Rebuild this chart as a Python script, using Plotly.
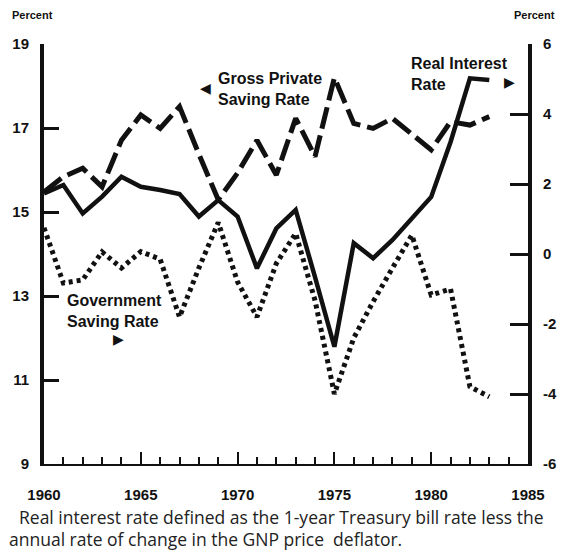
import plotly.graph_objects as go

years = list(range(1960, 1984))

gross_private_saving = [15.48, 15.84, 16.04, 15.60, 16.71, 17.31, 16.99, 17.51, 16.38, 15.29,
                        15.93, 16.71, 15.88, 17.23, 16.32, 18.20, 17.11, 16.99, 17.23, 16.86,
                        16.48, 17.15, 17.07, 17.27]
real_interest_rate = [1.73, 1.97, 1.16, 1.64, 2.21, 1.92, 1.83, 1.71, 1.07, 1.54,
                      1.07, -0.41, 0.73, 1.26, -0.66, -2.65, 0.31, -0.12, 0.40, 1.01,
                      1.63, 3.20, 5.02, 4.97]
government_saving = [0.75, -0.83, -0.74, 0.06, -0.40, 0.07, -0.15, -1.80, -0.40, 0.90,
                     -0.80, -1.80, -0.27, 0.59, -1.33, -4.00, -2.40, -1.36, -0.40, 0.54,
                     -1.17, -1.00, -3.79, -4.08]

x_ticks = [1960, 1965, 1970, 1975, 1980, 1985]
left_ticks = [9, 11, 13, 15, 17, 19]
right_ticks = [-6, -4, -2, 0, 2, 4, 6]
right_ticktext = ["-6", "-4", "-2", "0", "2", "4", "6"]

INK = "#111111"
tickfont = dict(family="Liberation Sans", size=15, color=INK, weight="bold")

fig = go.Figure()
fig.add_trace(go.Scatter(x=years, y=gross_private_saving, mode="lines", yaxis="y",
                         line=dict(color=INK, width=5, dash="22px,7px"),
                         name="Gross Private Saving Rate"))
fig.add_trace(go.Scatter(x=years, y=real_interest_rate, mode="lines", yaxis="y2",
                         line=dict(color=INK, width=4.5),
                         name="Real Interest Rate"))
fig.add_trace(go.Scatter(x=years, y=government_saving, mode="lines", yaxis="y2",
                         line=dict(color=INK, width=5, dash="4px,4px"),
                         name="Government Saving Rate"))

fig.update_layout(
    width=569, height=550,
    margin=dict(l=42, r=34, t=44, b=86),
    paper_bgcolor="white", plot_bgcolor="white",
    showlegend=False,
    xaxis=dict(range=[1960, 1985], tickvals=x_ticks, ticks="inside", ticklen=12,
               tickwidth=2, tickcolor=INK, showline=True, linewidth=2, linecolor=INK,
               showgrid=False, zeroline=False, tickfont=tickfont, ticklabelstandoff=16,
               minor=dict(dtick=1, ticks="inside", ticklen=7, tickwidth=2, tickcolor=INK)),
    yaxis=dict(range=[9, 19], tickvals=left_ticks, ticks="inside", ticklen=15,
               tickwidth=3, tickcolor=INK, showline=True, linewidth=4, linecolor=INK,
               showgrid=False, zeroline=False, tickfont=tickfont, ticklabelstandoff=8),
    yaxis2=dict(range=[-6, 6], tickvals=right_ticks, ticktext=right_ticktext,
                overlaying="y", side="right", ticks="inside", ticklen=18,
                tickwidth=3, tickcolor=INK, showline=True, linewidth=4, linecolor=INK,
                showgrid=False, zeroline=False, tickfont=tickfont, ticklabelstandoff=8),
)

def px_x(p):
    return (p - 42) / 493

def px_y(p):
    return (464 - p) / 420

labfont = dict(family="Liberation Sans", size=16, color=INK, weight="bold")
arrowfont = dict(family="DejaVu Sans", size=14, color=INK)
ann = []
ann.append(dict(text="Percent", x=px_x(7), y=px_y(15), xanchor="left", yanchor="middle",
                font=dict(family="Liberation Sans", size=11, color=INK, weight="bold")))
ann.append(dict(text="Percent", x=px_x(565), y=px_y(15), xanchor="right", yanchor="middle",
                font=dict(family="Liberation Sans", size=11, color=INK, weight="bold")))
label_blocks = [
    ("Gross Private<br>Saving Rate", 217, 89),
    ("Real Interest<br>Rate", 414, 74),
    ("Government<br>Saving Rate", 63, 311),
]
for txt, lx, ly in label_blocks:
    ann.append(dict(text=txt, x=px_x(lx), y=px_y(ly), xanchor="left", yanchor="middle",
                    align="left", font=labfont))
for glyph, gx, gy in [("◀", 206, 88), ("▶", 516, 82), ("▶", 118, 339)]:
    ann.append(dict(text=glyph, x=px_x(gx), y=px_y(gy), xanchor="center", yanchor="middle",
                    font=arrowfont))
notefont = dict(family="Open Sans", size=17.5, color="#222222")
ann.append(dict(text="Real interest rate defined as the 1-year Treasury bill rate less the",
                x=px_x(14), y=px_y(517), xanchor="left", yanchor="middle", font=notefont))
ann.append(dict(text="annual rate of change in the GNP price  deflator.",
                x=px_x(4), y=px_y(539), xanchor="left", yanchor="middle", font=notefont))
for a in ann:
    a.update(xref="paper", yref="paper", showarrow=False)
fig.update_layout(annotations=ann)

fig.write_html("out.html", config={"displayModeBar": False},
               post_script="document.body.style.margin='0';")
